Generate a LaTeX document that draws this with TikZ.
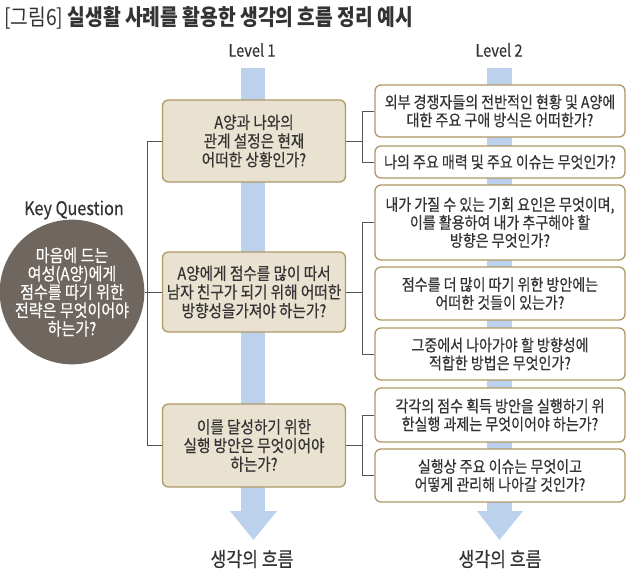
\documentclass[tikz,border=0pt]{standalone}
\usepackage{fontspec}
\setmainfont{Noto Sans CJK KR}[FakeStretch=0.86, UprightFeatures={FakeBold=0.4}]
\newfontfamily\titlelight{Noto Sans CJK KR}[FakeStretch=0.86]
\usetikzlibrary{calc}
\definecolor{txt}{HTML}{333333}
\definecolor{flow}{HTML}{BCD2EC}
\definecolor{beige}{HTML}{E9E2D1}
\definecolor{gold}{HTML}{AE9866}
\definecolor{taupe}{HTML}{6E665F}
\definecolor{wire}{HTML}{555555}
\tikzset{
  lvone/.style={draw=gold, line width=1.3pt, fill=beige, rounded corners=6pt,
    minimum width=183pt, align=center, text=txt, inner sep=0pt,
    font=\fontsize{17}{18.7}\selectfont},
  lvtwo/.style={draw=gold, line width=1.3pt, fill=white, rounded corners=6pt,
    minimum width=250pt, align=center, text=txt, inner sep=0pt,
    font=\fontsize{16.3}{18}\selectfont},
  wireline/.style={draw=wire, line width=0.9pt},
  lbl/.style={text=txt, inner sep=0pt}
}
\begin{document}
\begin{tikzpicture}[x=1pt,y=-1pt]
\useasboundingbox (0,0) rectangle (640,581);
% title
\node[lbl, anchor=west, font=\fontsize{22.4}{24}\selectfont] (title) at (4,18)
  {{\titlelight [그림6]} \textbf{실생활 사례를 활용한 생각의 흐름 정리 예시}};
% level labels
\node[lbl, font=\fontsize{17}{19}\selectfont] (lv1) at (252,50) {Level 1};
\node[lbl, font=\fontsize{17}{19}\selectfont] (lv2) at (499,50) {Level 2};
% flow arrows
\fill[flow] (241,68) rectangle (265,512);
\fill[flow] (230,511) -- (277,511) -- (253.5,540) -- cycle;
\fill[flow] (487,68) rectangle (512,512);
\fill[flow] (477,511) -- (523,511) -- (499.5,540) -- cycle;
\node[lbl, font=\fontsize{20}{22}\selectfont] (flow1) at (252,559) {생각의 흐름};
\node[lbl, font=\fontsize{20}{22}\selectfont] (flow2) at (500,559) {생각의 흐름};
% key question
\node[lbl, font=\fontsize{18.8}{20}\selectfont] (kqt) at (74,210) {Key Question};
\node[circle, fill=taupe, minimum size=126pt, inner sep=0pt, text=white, align=center,
  font=\fontsize{17.5}{18.3}\selectfont] (kq) at (72,292)
  {마음에 드는\\여성(A양)에게\\점수를 따기 위한\\전략은 무엇이어야\\하는가?};
% level 1 boxes
\node[lvone, minimum height=82pt] (a1) at (254,141) {A양과 나와의\\관계 설정은 현재\\어떠한 상황인가?};
\node[lvone, minimum height=80pt] (a2) at (254,292) {A양에게 점수를 많이 따서\\남자 친구가 되기 위해 어떠한\\방향성을가져야 하는가?};
\node[lvone, minimum height=83pt] (a3) at (254,445.5) {이를 달성하기 위한\\실행 방안은 무엇이어야\\하는가?};
% level 2 boxes
\node[lvtwo, minimum height=52pt] (b1) at (500,111) {외부 경쟁자들의 전반적인 현황 및 A양에\\대한 주요 구애 방식은 어떠한가?};
\node[lvtwo, minimum height=32pt] (b2) at (500,162) {나의 주요 매력 및 주요 이슈는 무엇인가?};
\node[lvtwo, minimum height=75pt] (b3) at (500,222.5) {내가 가질 수 있는 기회 요인은 무엇이며,\\이를 활용하여 내가 추구해야 할\\방향은 무엇인가?};
\node[lvtwo, minimum height=53pt] (b4) at (500,293.5) {점수를 더 많이 따기 위한 방안에는\\어떠한 것들이 있는가?};
\node[lvtwo, minimum height=52pt] (b5) at (500,354) {그중에서 나아가야 할 방향성에\\적합한 방법은 무엇인가?};
\node[lvtwo, minimum height=54pt] (b6) at (500,415) {각각의 점수 획득 방안을 실행하기 위\\한실행 과제는 무엇이어야 하는가?};
\node[lvtwo, minimum height=53pt] (b7) at (500,475.5) {실행상 주요 이슈는 무엇이고\\어떻게 관리해 나아갈 것인가?};
% spines
\coordinate (s1) at (147,0);
\coordinate (s2) at (362,0);
% connectors
\draw[wireline] (kq.east) -- (a2.west);
\draw[wireline] (a1.west) -| (s1 |- a3.west) -- (a3.west);
\draw[wireline] (a1.east) -- (a1.east -| s2);
\draw[wireline] (b1.west) -| (s2 |- b2.west) -- (b2.west);
\draw[wireline] (a2.east) -- (a2.east -| s2);
\draw[wireline] (b3.west) -| (s2 |- b5.west) -- (b5.west);
\draw[wireline] (a3.east) -- (a3.east -| s2);
\draw[wireline] (b6.west) -| (s2 |- b7.west) -- (b7.west);
\end{tikzpicture}
\end{document}
